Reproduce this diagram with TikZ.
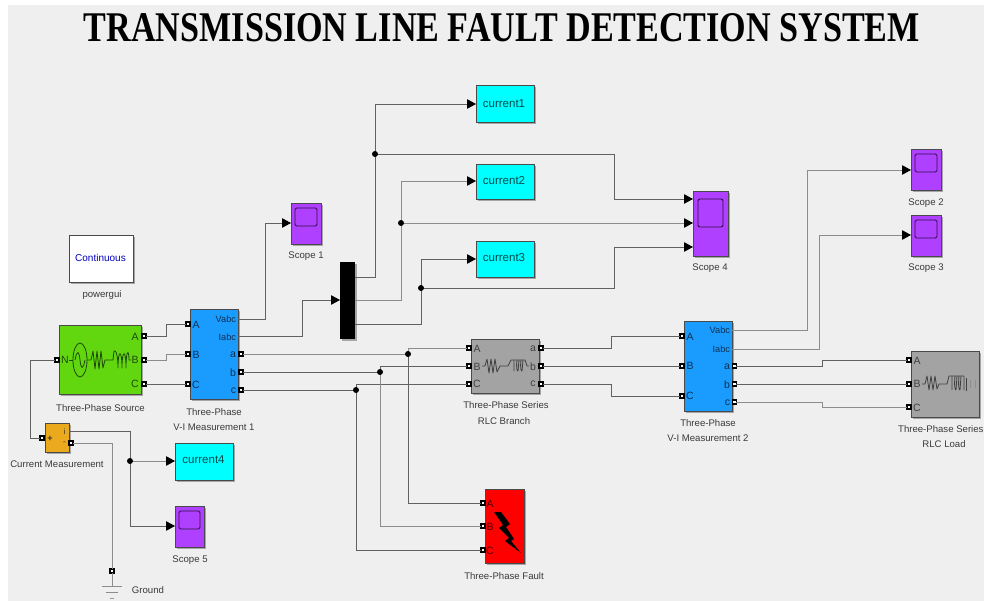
\documentclass[tikz,border=0pt]{standalone}
\usepackage{fontspec}
\usepackage{graphicx}
\setmainfont{Liberation Sans}
\newfontfamily\titlefont{Liberation Serif}
\usetikzlibrary{arrows.meta}
\definecolor{bggrey}{HTML}{EFEFEF}
\definecolor{blockedge}{HTML}{4A4A4A}
\definecolor{srcgreen}{HTML}{62D60F}
\definecolor{vblue}{HTML}{1A9CFF}
\definecolor{cyanblk}{HTML}{00FFFF}
\definecolor{scopepurple}{HTML}{B040FF}
\definecolor{rlcgrey}{HTML}{A3A3A3}
\definecolor{meas}{HTML}{EBAA1E}
\definecolor{labelc}{HTML}{3A3A3A}
\definecolor{portc}{HTML}{0F3050}
\definecolor{greenink}{HTML}{1E4A08}
\tikzset{
  x=1pt,y=-1pt,
  every node/.style={font=\fontsize{9.6}{11.5}\selectfont,text=labelc,inner sep=0pt,outer sep=0pt},
  lab/.style={yshift=-1.2pt},
  wire/.style={draw=black!62,line width=0.95pt},
  wirelt/.style={draw=black!45,line width=0.95pt},
  sigtip/.style={-{Triangle[length=9pt,width=9.5pt,color=black,fill=black]}},
  dotj/.style={circle,fill=black,minimum size=6pt,inner sep=0pt},
  portbox/.style={draw=black,fill=white,line width=1.4pt,minimum size=3.8pt,inner sep=0pt},
  pl/.style={font=\fontsize{9.2}{11}\selectfont,text=portc},
  pk/.style={font=\fontsize{10.5}{12}\selectfont,text=portc},
  gl/.style={font=\fontsize{10.5}{12}\selectfont,text=black!75},
  gotob/.style={font=\fontsize{11.5}{13}\selectfont,text=black!70!cyanblk},
  symb/.style={draw=greenink,line width=0.8pt,line join=round},
  symg/.style={draw=black!75,line width=0.8pt,line join=round},
}
\newcommand{\blk}[6]{% name, fill, x1,y1,x2,y2
  \fill[black!35] (#3+2,#4+2) rectangle (#5+2,#6+2);
  \node[draw=blockedge,line width=0.9pt,fill=#2,anchor=north west,minimum width=#5-#3,minimum height=#6-#4] (#1) at (#3,#4) {};
}
\newcommand{\scp}[5]{% name,x1,y1,x2,y2 ; screen occupies upper part
  \blk{#1}{scopepurple}{#2}{#3}{#4}{#5}
  \draw[draw=black!75!scopepurple,line width=0.9pt,rounded corners=1.5pt] (#2+4,#3+5) rectangle (#4-4,#3+23);
}
\begin{document}
\begin{tikzpicture}
\useasboundingbox (0,0) rectangle (984,601);
\fill[white] (0,0) rectangle (984,601);
\fill[bggrey] (8,5) rectangle (984,601);
% title
\node[anchor=base,text=black] (title) at (502,42) {\resizebox{836pt}{28pt}{\titlefont\bfseries TRANSMISSION LINE FAULT DETECTION SYSTEM}};
% powergui
\blk{pgui}{white}{69}{235}{133}{282}
\node[text=blue!75!black,font=\fontsize{10}{12}\selectfont] (pguit) at (100.5,258) {Continuous};
\node[lab] (pguil) at (102,293.5) {powergui};
% source
\blk{src}{srcgreen}{59}{325}{141}{394}
\node[lab] (srcl) at (100.5,406.5) {Three-Phase Source};
\node[gl,text=greenink] (srcA) at (135,337) {A};
\node[gl,text=greenink] (srcB) at (135,360) {B};
\node[gl,text=greenink] (srcC) at (135,384) {C};
\node[gl,text=greenink] (srcN) at (65,360) {N};
\draw[symb] (69,360) -- (73,360);
\draw[symb] (80,360) ellipse (7 and 17);
\draw[symb] (75,360) .. controls (77,350) and (79,350) .. (80,360) .. controls (81,370) and (83,370) .. (85,360);
\draw[symb] (87,360) -- (91,360) -- (93,351) -- (95,369) -- (97,351) -- (99,369) -- (101,351) -- (103,368) -- (105,360) -- (113,360);
\draw[symb] (113,360) -- (114,351) .. controls (118,349) and (118,368) .. (118,368) .. controls (118,349) and (122,349) .. (122,368) .. controls (122,349) and (126,349) .. (126,368) .. controls (126,349) and (129,349) .. (129,360) -- (131,360);
% VI 1
\blk{vi1}{vblue}{190}{309}{238}{399}
\node[lab] at (214,411) {Three-Phase};
\node[lab] at (214,426) {V-I Measurement 1};
\node[pk] at (196,325) {A};
\node[pk] at (196,354.5) {B};
\node[pk] at (196,384.5) {C};
\node[pl,anchor=east] at (236,319) {Vabc};
\node[pl,anchor=east] at (236,337) {Iabc};
\node[pk,anchor=east] at (236,355) {a};
\node[pk,anchor=east] at (236,373) {b};
\node[pk,anchor=east] at (236,391) {c};
% current measurement
\blk{cm}{meas}{45}{423}{69}{452}
\node[lab] (cml) at (57,462.5) {Current Measurement};
\node[pl,text=black!80,font=\bfseries\fontsize{9}{10}\selectfont] at (50,439) {+};
\node[pl,text=black!80,font=\fontsize{8}{10}\selectfont] at (64.5,432) {i};
\node[pl,text=black!80,font=\fontsize{8}{10}\selectfont] at (64.5,443) {-};
% gotos
\blk{c1}{cyanblk}{476}{85}{534}{122}
\node[gotob] at (504,104) {current1};
\blk{c2}{cyanblk}{476}{164}{534}{199}
\node[gotob] at (504,181) {current2};
\blk{c3}{cyanblk}{476}{241}{534}{277}
\node[gotob] at (504,258) {current3};
\blk{c4}{cyanblk}{175}{443}{233}{480}
\node[gotob] at (203.5,460) {current4};
% scopes
\scp{s1}{291}{203}{321}{244}
\node[lab] at (306,255) {Scope 1};
\scp{s2}{911}{149}{941}{190}
\node[lab] at (926,202) {Scope 2};
\scp{s3}{911}{215}{941}{256}
\node[lab] at (926,267) {Scope 3};
\scp{s5}{175}{506}{204}{547}
\node[lab] at (190,559) {Scope 5};
\blk{s4}{scopepurple}{693}{191}{728}{256}
\draw[draw=black!75!scopepurple,line width=0.9pt,rounded corners=2pt] (698,199) rectangle (723,227);
\node[lab] at (710,267) {Scope 4};
% mux
\fill[black!35] (342,264) rectangle (357,341);
\node[fill=black,anchor=north west,minimum width=15pt,minimum height=77pt] (mux) at (340,262) {};
% RLC branch
\blk{rlc}{rlcgrey}{471}{339}{539}{393}
\node[lab] at (506,404) {Three-Phase Series};
\node[lab] at (504,420) {RLC Branch};
\node[gl] at (477,349) {A};
\node[gl] at (477,367) {B};
\node[gl] at (477,384) {C};
\node[gl] at (533,349) {a};
\node[gl] at (533,367) {b};
\node[gl] at (533,384) {c};
\draw[symg] (482,366) -- (485,366) -- (487,359) -- (489,373) -- (491,359) -- (493,373) -- (495,359) -- (497,372) -- (500,366) -- (508,366) -- (511,360) -- (525,360) -- (527,366) -- (529,366);
\draw[symg] (514,360) -- (514,371) (517,360) .. controls (516,368) and (517,371) .. (518,371) -- (519,360) (521,360) .. controls (520,368) and (521,371) .. (522,371) -- (523,360);
% VI 2
\blk{vi2}{vblue}{684}{321}{732}{411}
\node[lab] at (708,422) {Three-Phase};
\node[lab] at (708,437) {V-I Measurement 2};
\node[pk] at (690,337) {A};
\node[pk] at (690,366) {B};
\node[pk] at (690,396) {C};
\node[pl,anchor=east] at (730,330.5) {Vabc};
\node[pl,anchor=east] at (730,349) {Iabc};
\node[pk,anchor=east] at (730,367) {a};
\node[pk,anchor=east] at (730,385) {b};
\node[pk,anchor=east] at (730,403) {c};
% load
\blk{load}{rlcgrey}{911}{351}{979}{417}
\node[lab,anchor=east] at (983.5,427.5) {Three-Phase Series};
\node[lab] at (944,443) {RLC Load};
\node[gl] at (917,361) {A};
\node[gl] at (917,384) {B};
\node[gl] at (917,408) {C};
\draw[symg] (922,384) -- (925,384) -- (927,376) -- (929,390) -- (931,376) -- (933,390) -- (935,376) -- (937,389) -- (939,384) -- (947,384) -- (949,376) -- (964,376);
\draw[symg] (952,376) -- (952,390) (955,376) .. controls (954,386) and (955,390) .. (956,390) -- (957,376) (959,376) .. controls (958,386) and (959,390) .. (960,390) -- (961,376) (964,376) -- (964,390);
\draw[symg] (966,378) -- (966,391);
\draw[symg,draw=black!45] (970,380) -- (970,388) (975,380) -- (975,388);
% fault
\blk{flt}{red}{485}{489}{524}{563}
\node[lab] at (504,574.5) {Three-Phase Fault};
\node[gl,text=red!30!black] at (490,504) {A};
\node[gl,text=red!30!black] at (490,527) {B};
\node[gl,text=red!30!black] at (490,551) {C};
\fill[black] (494,512) -- (501,512) -- (510,524) -- (506,527) -- (514,539) -- (511,541) -- (521,553) -- (505,541) -- (509,538) -- (499,528) -- (503,525) -- cycle;
% ground
\node[portbox] (gp) at (112,571) {};
\draw[wirelt] (gp) -- (112,586);
\draw[wirelt] (102,586) -- (122,586);
\draw[wirelt] (106,592) -- (118,592);
\draw[wirelt,draw=black!40] (110,598) -- (114,598);
\node[lab] (gl) at (148,589) {Ground};
% ports
\foreach \n/\px/\py in {pA/144/336,pB/144/360,pC/144/384,pN/57/360,
 vA/188/324,vB/188/354,vC/188/384,va/241/354,vb/241/372,vc/241/390,
 mp/42/438,mm/71/443,
 rA/469/348,rB/469/366,rC/469/384,ra/541/348,rb/541/366,rc/541/384,
 wA/682/336,wB/682/366,wC/682/396,wa/734.5/366,wb/734.5/384,wc/734.5/402,
 lA/909/360,lB/909/384,lC/909/407,
 fA/483/503,fB/483/526,fC/483/550}
 {\node[portbox] (\n) at (\px,\py) {};}
% power wiring
\draw[wire] (pA) -- (166,336) -- (166,324) -- (vA);
\draw[wirelt] (pB) -- (166,360) -- (166,354) -- (vB);
\draw[wire] (pC) -- (vC);
\draw[wire] (pN) -- (30,360) -- (30,438) -- (mp);
\coordinate (nA) at (408,354);
\coordinate (nB) at (380,372);
\coordinate (nC) at (356,390);
\coordinate (n1) at (375,154);
\coordinate (n2) at (401,223);
\coordinate (n3) at (421,288);
\coordinate (n4) at (130,461);
\draw[wirelt] (va) -- (nA);
\draw[wire] (vb) -- (nB);
\draw[wire] (vc) -- (nC);
\draw[wirelt] (nA) -- (408,348) -- (rA);
\draw[wire] (nB) -- (380,366) -- (rB);
\draw[wire] (nC) -- (356,384) -- (rC);
\draw[wire] (nA) -- (408,503) -- (fA);
\draw[wirelt] (nB) -- (380,526) -- (fB);
\draw[wire] (nC) -- (356,550) -- (fC);
\draw[wire] (ra) -- (611,348) -- (611,336) -- (wA);
\draw[wire] (rb) -- (wB);
\draw[wire] (rc) -- (611,384) -- (611,396) -- (wC);
\draw[wire] (wa) -- (822,366) -- (822,360) -- (lA);
\draw[wire] (wb) -- (lB);
\draw[wirelt] (wc) -- (822,402) -- (822,407) -- (lC);
\draw[wirelt] (mm) -- (112,443) -- (gp);
% signals
\coordinate (vo) at (238,319);
\coordinate (io) at (238,336);
\coordinate (cmi) at (69,431);
\draw[wire,sigtip] (vo) -- (265,319) -- (265,223) -- (291,223);
\draw[wire,sigtip] (io) -- (302,336) -- (302,300) -- (340,300);
\draw[wire] (cmi) -- (130,431) -- (n4);
\draw[wirelt,sigtip] (n4) -- (175,461);
\draw[wire,sigtip] (n4) -- (130,526) -- (175,526);
\draw[wire] (355,277) -- (375,277) -- (n1);
\draw[wire,sigtip] (n1) -- (375,104) -- (476,104);
\draw[wirelt] (355,300) -- (401,300) -- (n2);
\draw[wirelt,sigtip] (n2) -- (401,181) -- (476,181);
\draw[wire] (355,324) -- (421,324) -- (n3);
\draw[wire,sigtip] (n3) -- (421,259) -- (476,259);
\draw[wire,sigtip] (n1) -- (614,154) -- (614,199) -- (693,199);
\draw[wirelt,sigtip] (n2) -- (693,223);
\draw[wire,sigtip] (n3) -- (614,288) -- (614,247) -- (693,247);
\draw[wirelt,sigtip] (732,330) -- (807,330) -- (807,170) -- (911,170);
\draw[wirelt,sigtip] (732,349) -- (819,349) -- (819,235) -- (911,235);
% junctions
\foreach \n/\px/\py in {j1/375/154,j2/401/223,j3/421/288,jA/408/354,jB/380/372,jC/356/390,j4/130/461}
 {\node[dotj] (\n) at (\px,\py) {};}
\end{tikzpicture}
\end{document}
